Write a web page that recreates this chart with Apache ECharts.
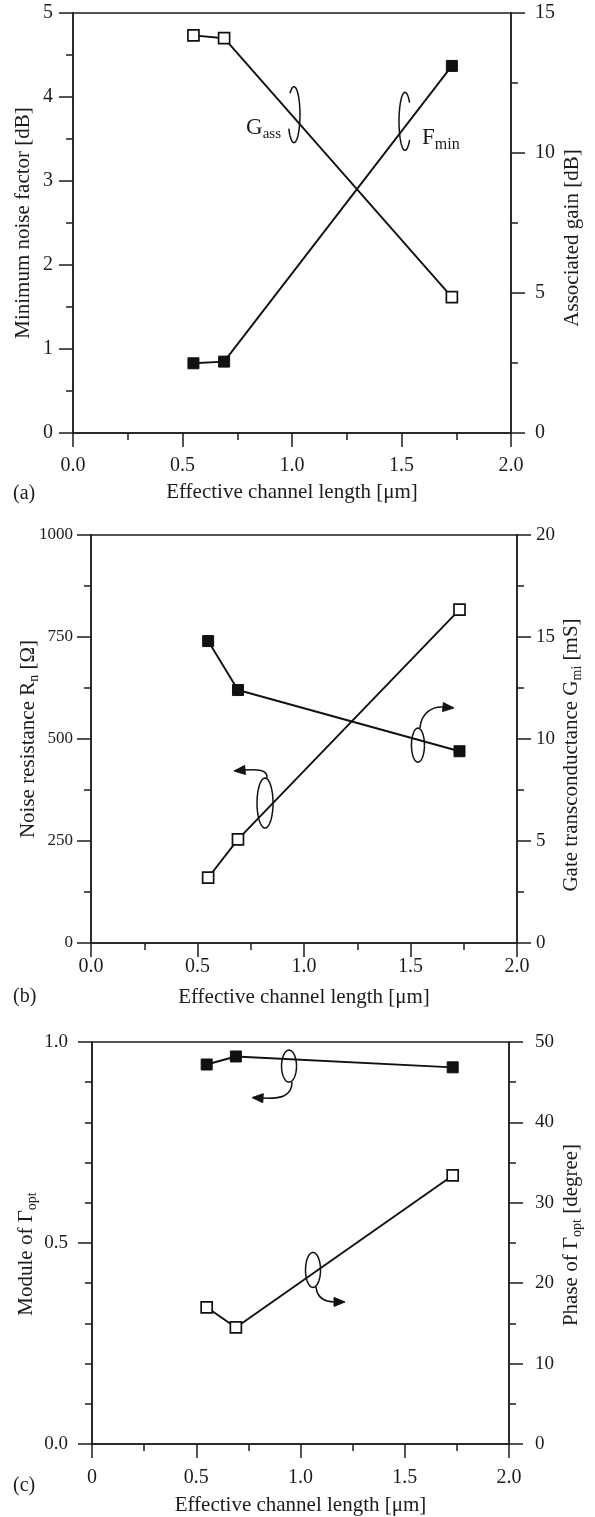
<!DOCTYPE html>
<html><head><meta charset="utf-8">
<script src="https://cdn.jsdelivr.net/npm/echarts@6/dist/echarts.min.js"></script>
<style>html,body{margin:0;padding:0;background:#fff}#c{width:595px;height:1517px}</style>
</head><body><div id="c"></div>
<script>
// ---- data ----
const lengths = [0.55, 0.69, 1.73];            // effective channel length [um]
const fmin = [0.83, 0.85, 4.37];               // (a) minimum noise factor [dB], left axis
const gass = [14.2, 14.1, 4.85];               // (a) associated gain [dB], right axis
const rn = [160, 254, 817];                    // (b) noise resistance [ohm], left axis
const gmi = [14.8, 12.4, 9.4];                 // (b) gate transconductance [mS], right axis
const gammaMod = [0.944, 0.964, 0.937];        // (c) module of Gamma_opt, left axis
const gammaPhase = [17.0, 14.5, 33.4];         // (c) phase of Gamma_opt [deg], right axis
const xTickLabels = ['0.0', '0.5', '1.0', '1.5', '2.0'];
const xTickLabelsC = ['0', '0.5', '1.0', '1.5', '2.0'];
const panelLabels = ['(a)', '(b)', '(c)'];

const FF = '"Liberation Serif","DejaVu Serif",serif';
const INK = '#1c1c1c';
const chart = echarts.init(document.getElementById('c'), null, {renderer: 'canvas'});

const rich = {
  n: {fontFamily: FF, fontSize: 21, color: INK, lineHeight: 26},
  s: {fontFamily: FF, fontSize: 14, color: INK, lineHeight: 14, verticalAlign: 'bottom'}
};

function xAx(gi, labels, margin, nameGap) {
  return {
    type: 'value', gridIndex: gi, min: 0, max: 2, interval: 0.5, position: 'bottom',
    axisLine: {onZero: false, lineStyle: {color: INK, width: 1.5}},
    axisTick: {length: 14, lineStyle: {color: INK, width: 1.5}},
    minorTick: {show: true, splitNumber: 2, length: 7, lineStyle: {color: INK, width: 1.5}},
    splitLine: {show: false}, minorSplitLine: {show: false},
    axisLabel: {margin: margin, fontFamily: FF, fontSize: 20, color: INK,
      formatter: v => labels[Math.round(v / 0.5)]},
    name: 'Effective channel length [μm]', nameLocation: 'middle', nameGap: nameGap,
    nameMoveOverlap: false,
    nameTextStyle: {fontFamily: FF, fontSize: 21, color: INK}
  };
}
function yAx(gi, pos, min, max, interval, minorSplit, margin, fs, fmt, name, nameGap, pad) {
  return {
    type: 'value', gridIndex: gi, position: pos, min: min, max: max, interval: interval,
    axisLine: {show: true, onZero: false, lineStyle: {color: INK, width: 1.5}},
    axisTick: {show: true, length: 14, lineStyle: {color: INK, width: 1.5}},
    minorTick: {show: true, splitNumber: minorSplit, length: 7, lineStyle: {color: INK, width: 1.5}},
    splitLine: {show: false}, minorSplitLine: {show: false},
    axisLabel: {margin: margin, fontFamily: FF, fontSize: fs, color: INK, formatter: fmt},
    name: name, nameLocation: 'middle', nameGap: nameGap, nameRotate: 90,
    nameMoveOverlap: false,
    nameTextStyle: {fontFamily: FF, fontSize: 21, color: INK, rich: rich, padding: pad || 0}
  };
}
function pts(vals) { return lengths.map((x, i) => [x, vals[i]]); }
function ser(xi, yi, vals, filled) {
  return {
    type: 'line', xAxisIndex: xi, yAxisIndex: yi, data: pts(vals),
    symbol: 'rect', symbolSize: 11, showSymbol: true,
    lineStyle: {color: '#111', width: 1.9},
    itemStyle: filled ? {color: '#111', borderColor: '#111', borderWidth: 1}
                      : {color: '#fff', borderColor: '#111', borderWidth: 1.7},
    emphasis: {disabled: true}, z: filled ? 3 : 4
  };
}
const gridBase = {show: true, borderColor: INK, borderWidth: 1.5, backgroundColor: 'transparent',
  containLabel: false, outerBoundsMode: 'none'};

chart.setOption({
  animation: false,
  backgroundColor: '#fff',
  grid: [
    Object.assign({left: 73, top: 13, width: 438, height: 420}, gridBase),
    Object.assign({left: 91, top: 535, width: 426, height: 408}, gridBase),
    Object.assign({left: 92, top: 1042, width: 417, height: 402}, gridBase)
  ],
  xAxis: [xAx(0, xTickLabels, 23, 49), xAx(1, xTickLabels, 14, 44), xAx(2, xTickLabelsC, 24, 51)],
  yAxis: [
    yAx(0, 'left', 0, 5, 1, 2, 20, 20, v => String(v), '{n|Minimum noise factor [dB]}', 37),
    yAx(0, 'right', 0, 15, 5, 2, 24, 20, v => String(v), '{n|Associated gain [dB]}', 48, [0, 30, 0, 0]),
    yAx(1, 'left', 0, 1000, 250, 2, 18, 17, v => String(v), '{n|Noise resistance R}{s|n}{n| [Ω]}', 50),
    yAx(1, 'right', 0, 20, 5, 2, 19, 19, v => String(v), '{n|Gate transconductance G}{s|mi}{n| [mS]}', 41, [0, 32, 0, 0]),
    yAx(2, 'left', 0, 1, 0.5, 5, 24, 19, v => v.toFixed(1), '{n|Module of Γ}{s|opt}', 53, [0, 22, 0, 0]),
    yAx(2, 'right', 0, 50, 10, 2, 26, 19, v => String(v), '{n|Phase of Γ}{s|opt}{n| [degree]}', 49, [0, 0, 0, 16])
  ],
  series: [
    ser(0, 1, gass, false), ser(0, 0, fmin, true),
    ser(1, 2, rn, false), ser(1, 3, gmi, true),
    ser(2, 4, gammaMod, true), ser(2, 5, gammaPhase, false)
  ]
});

// ---- annotations (loops, arrows, labels) placed through the axes ----
const loops = [
  {x: 0, y: 0, at: [1.009, 3.79], rx: 6, ry: 28, a0: -130, a1: 150, cw: true},
  {x: 0, y: 0, at: [1.516, 3.71], rx: 6, ry: 29, a0: -40, a1: 40, cw: false},
  {x: 1, y: 2, at: [1.535, 485], rx: 6.5, ry: 17, a0: 0, a1: 360, cw: true,
    arrow: {s: [2, -17], c1: [3, -32], c2: [14, -39], e: [26, -38]}},
  {x: 1, y: 2, at: [0.817, 343], rx: 8, ry: 25, a0: 0, a1: 360, cw: true,
    arrow: {s: [2, -25], c1: [3, -34], c2: [-10, -34], e: [-21, -33]}},
  {x: 2, y: 4, at: [0.945, 0.940], rx: 7.5, ry: 16, a0: 0, a1: 360, cw: true,
    arrow: {s: [3, 16], c1: [3, 30], c2: [-8, 33], e: [-27, 32]}},
  {x: 2, y: 4, at: [1.06, 0.433], rx: 7.5, ry: 17.5, a0: 0, a1: 360, cw: true,
    arrow: {s: [3, 17], c1: [4, 28], c2: [12, 32], e: [22, 32]}}
];
const g = [];
const stroke = {stroke: '#111', lineWidth: 1.5, fill: null};
loops.forEach((L, k) => {
  const c = chart.convertToPixel({xAxisIndex: L.x, yAxisIndex: L.y}, L.at);
  const P = [];
  const n = 60;
  let a0 = L.a0, a1 = L.a1;
  if (!L.cw) { a1 = L.a1 - 360; }
  for (let i = 0; i <= n; i++) {
    const t = (a0 + (a1 - a0) * i / n) * Math.PI / 180;
    P.push([c[0] + L.rx * Math.cos(t), c[1] + L.ry * Math.sin(t)]);
  }
  g.push({type: 'polyline', shape: {points: P}, style: stroke, z: 10, silent: true});
  if (L.arrow) {
    const A = L.arrow, o = (d) => [c[0] + d[0], c[1] + d[1]];
    const s = o(A.s), c1 = o(A.c1), c2 = o(A.c2), e = o(A.e);
    g.push({type: 'bezierCurve', shape: {x1: s[0], y1: s[1], cpx1: c1[0], cpy1: c1[1],
      cpx2: c2[0], cpy2: c2[1], x2: e[0], y2: e[1]}, style: stroke, z: 10, silent: true});
    let dx = e[0] - c2[0], dy = e[1] - c2[1];
    const len = Math.hypot(dx, dy); dx /= len; dy /= len;
    const tip = [e[0] + dx * 10, e[1] + dy * 10];
    g.push({type: 'polygon', shape: {points: [tip,
      [e[0] - dy * 4.5 - dx, e[1] + dx * 4.5 - dy], [e[0] + dy * 4.5 - dx, e[1] - dx * 4.5 - dy]]},
      style: {fill: '#111', stroke: '#111', lineWidth: 1}, z: 10, silent: true});
  }
  if (k === 0) {
    g.push({type: 'text', z: 10, silent: true, style: {x: c[0] - 13, y: c[1] + 13,
      text: '{m|G}{t|ass}', textAlign: 'right', textVerticalAlign: 'middle',
      rich: {m: {fontFamily: FF, fontSize: 23, fill: INK, lineHeight: 28},
             t: {fontFamily: FF, fontSize: 15, fill: INK, lineHeight: 15, verticalAlign: 'bottom'}}}});
  }
  if (k === 1) {
    g.push({type: 'text', z: 10, silent: true, style: {x: c[0] + 17, y: c[1] + 17,
      text: '{m|F}{t|min}', textAlign: 'left', textVerticalAlign: 'middle',
      rich: {m: {fontFamily: FF, fontSize: 23, fill: INK, lineHeight: 28},
             t: {fontFamily: FF, fontSize: 16, fill: INK, lineHeight: 16, verticalAlign: 'bottom'}}}});
  }
});
const labelY = [494, 997, 1486];
panelLabels.forEach((t, i) => g.push({type: 'text', z: 10, silent: true,
  style: {x: 13, y: labelY[i], text: t, textVerticalAlign: 'middle',
    font: '20px ' + FF, fill: INK}}));
chart.setOption({graphic: g});
</script>
</body></html>
